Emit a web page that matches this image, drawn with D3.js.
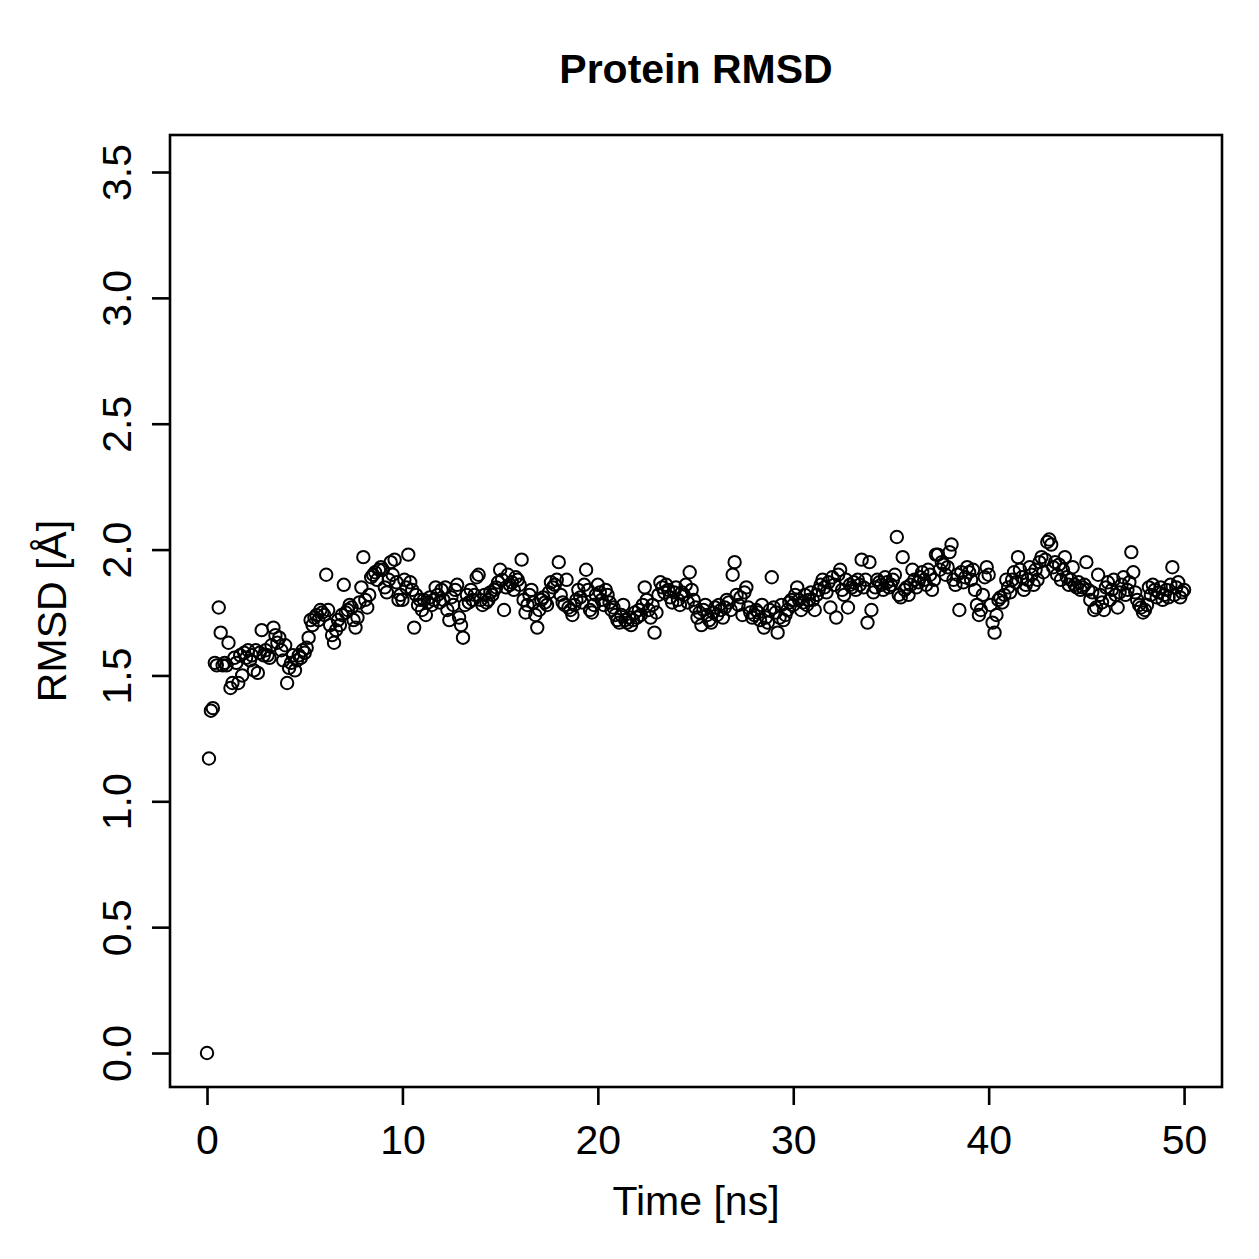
<!DOCTYPE html>
<html>
<head>
<meta charset="utf-8">
<script src="https://cdn.jsdelivr.net/npm/d3@7"></script>
<style>
  body { margin: 0; background: #fff; }
  text { font-family: "Liberation Sans", Arial, sans-serif; }
</style>
</head>
<body>
<svg id="chart"></svg>
<script>
// RMSD values, one sample every 0.1 ns (one row = 1 ns)
const timeStep = 0.1;
const rmsd = [
  0.00, 1.17, 1.36, 1.37, 1.55, 1.54, 1.77, 1.67, 1.54, 1.55,
  1.54, 1.63, 1.45, 1.47, 1.57, 1.55, 1.47, 1.58, 1.50, 1.59,
  1.57, 1.60, 1.56, 1.58, 1.52, 1.60, 1.51, 1.59, 1.68, 1.58,
  1.60, 1.58, 1.57, 1.62, 1.69, 1.66, 1.63, 1.65, 1.60, 1.56,
  1.62, 1.47, 1.53, 1.55, 1.58, 1.52, 1.56, 1.58, 1.57, 1.60,
  1.59, 1.61, 1.65, 1.72, 1.70, 1.73, 1.74, 1.72, 1.76, 1.75,
  1.74, 1.90, 1.76, 1.70, 1.66, 1.63, 1.68, 1.72, 1.70, 1.74,
  1.86, 1.75, 1.76, 1.78, 1.77, 1.72, 1.69, 1.73, 1.79, 1.85,
  1.97, 1.80, 1.77, 1.82, 1.89, 1.90, 1.91, 1.88, 1.92, 1.93,
  1.92, 1.85, 1.83, 1.88, 1.95, 1.90, 1.96, 1.87, 1.80, 1.82,
  1.80, 1.88, 1.85, 1.98, 1.87, 1.84, 1.69, 1.82, 1.78, 1.80,
  1.76, 1.80, 1.74, 1.79, 1.81, 1.78, 1.80, 1.85, 1.82, 1.79,
  1.84, 1.80, 1.85, 1.76, 1.72, 1.81, 1.78, 1.84, 1.86, 1.73,
  1.70, 1.65, 1.78, 1.82, 1.79, 1.84, 1.80, 1.82, 1.89, 1.90,
  1.80, 1.78, 1.82, 1.79, 1.80, 1.83, 1.82, 1.84, 1.85, 1.87,
  1.92, 1.88, 1.76, 1.85, 1.90, 1.86, 1.87, 1.84, 1.89, 1.88,
  1.86, 1.96, 1.80, 1.75, 1.78, 1.82, 1.84, 1.79, 1.74, 1.69,
  1.76, 1.80, 1.81, 1.79, 1.78, 1.83, 1.87, 1.85, 1.86, 1.88,
  1.95, 1.82, 1.79, 1.78, 1.88, 1.77, 1.76, 1.74, 1.78, 1.80,
  1.84, 1.81, 1.79, 1.86, 1.92, 1.84, 1.76, 1.75, 1.78, 1.82,
  1.86, 1.83, 1.80, 1.78, 1.84, 1.82, 1.79, 1.76, 1.77, 1.74,
  1.72, 1.71, 1.74, 1.78, 1.72, 1.71, 1.73, 1.70, 1.72, 1.75,
  1.73, 1.76, 1.74, 1.78, 1.85, 1.80, 1.76, 1.73, 1.78, 1.67,
  1.75, 1.82, 1.87, 1.85, 1.83, 1.86, 1.84, 1.81, 1.79, 1.83,
  1.85, 1.80, 1.78, 1.83, 1.82, 1.86, 1.79, 1.91, 1.84, 1.80,
  1.77, 1.73, 1.75, 1.70, 1.76, 1.78, 1.74, 1.72, 1.71, 1.75,
  1.77, 1.74, 1.78, 1.76, 1.73, 1.77, 1.80, 1.79, 1.76, 1.90,
  1.95, 1.82, 1.78, 1.81, 1.74, 1.83, 1.85, 1.77, 1.75, 1.73,
  1.74, 1.76, 1.75, 1.72, 1.78, 1.69, 1.73, 1.71, 1.76, 1.89,
  1.77, 1.75, 1.67, 1.73, 1.78, 1.72, 1.74, 1.76, 1.79, 1.80,
  1.78, 1.82, 1.85, 1.80, 1.76, 1.79, 1.82, 1.78, 1.80, 1.83,
  1.80, 1.76, 1.82, 1.84, 1.86, 1.88, 1.85, 1.83, 1.87, 1.77,
  1.89, 1.86, 1.73, 1.90, 1.92, 1.84, 1.82, 1.88, 1.77, 1.86,
  1.85, 1.87, 1.84, 1.88, 1.86, 1.96, 1.85, 1.88, 1.71, 1.95,
  1.76, 1.83, 1.85, 1.88, 1.87, 1.86, 1.84, 1.89, 1.87, 1.85,
  1.86, 1.88, 1.90, 2.05, 1.82, 1.81, 1.97, 1.84, 1.85, 1.82,
  1.86, 1.92, 1.88, 1.85, 1.87, 1.89, 1.91, 1.88, 1.86, 1.92,
  1.90, 1.84, 1.88, 1.98, 1.98, 1.92, 1.95, 1.94, 1.90, 1.93,
  1.99, 2.02, 1.88, 1.86, 1.90, 1.76, 1.91, 1.87, 1.89, 1.93,
  1.91, 1.88, 1.92, 1.84, 1.78, 1.74, 1.76, 1.82, 1.89, 1.93,
  1.90, 1.78, 1.71, 1.67, 1.74, 1.80, 1.81, 1.79, 1.82, 1.88,
  1.85, 1.83, 1.88, 1.91, 1.87, 1.97, 1.92, 1.89, 1.84, 1.86,
  1.88, 1.93, 1.90, 1.86, 1.92, 1.88, 1.95, 1.97, 1.91, 1.96,
  2.03, 2.04, 2.02, 1.93, 1.95, 1.90, 1.94, 1.88, 1.92, 1.97,
  1.89, 1.86, 1.88, 1.93, 1.86, 1.85, 1.87, 1.84, 1.85, 1.86,
  1.95, 1.84, 1.80, 1.83, 1.76, 1.77, 1.90, 1.82, 1.79, 1.76,
  1.85, 1.87, 1.80, 1.84, 1.88, 1.82, 1.77, 1.83, 1.86, 1.89,
  1.82, 1.84, 1.87, 1.99, 1.91, 1.83, 1.80, 1.78, 1.77, 1.75,
  1.76, 1.78, 1.85, 1.82, 1.86, 1.84, 1.81, 1.83, 1.85, 1.80,
  1.82, 1.84, 1.81, 1.86, 1.93, 1.82, 1.85, 1.87, 1.81, 1.83,
  1.84
];
const xTicks = [0, 10, 20, 30, 40, 50];
const yTicks = [0.0, 0.5, 1.0, 1.5, 2.0, 2.5, 3.0, 3.5];

const data = rmsd.map((v, i) => ({ time: i * timeStep, rmsd: v }));

const width = 1259;
const height = 1259;
const box = { left: 170, right: 1222, top: 135, bottom: 1087 };
const fontSize = 41;
const tickLen = 18;

const svg = d3.select("#chart")
  .attr("width", width)
  .attr("height", height);

// padded ranges, as in the original plot
const xScale = d3.scaleLinear()
  .domain([-1.894, 51.94])
  .range([box.left, box.right]);

const yScale = d3.scaleLinear()
  .domain([-0.135, 3.647])
  .range([box.bottom, box.top]);

const xAxis = d3.axisBottom(xScale)
  .tickValues(xTicks)
  .tickFormat(d3.format("d"))
  .tickSize(tickLen)
  .tickSizeOuter(0);

const yAxis = d3.axisLeft(yScale)
  .tickValues(yTicks)
  .tickFormat(d3.format(".1f"))
  .tickSize(tickLen)
  .tickSizeOuter(0);

const gx = svg.append("g")
  .attr("class", "x-axis")
  .attr("transform", `translate(0, ${box.bottom})`)
  .call(xAxis);

const gy = svg.append("g")
  .attr("class", "y-axis")
  .attr("transform", `translate(${box.left}, 0)`)
  .call(yAxis);

gx.select(".domain").remove();
gy.select(".domain").remove();

gx.selectAll(".tick line").attr("stroke", "#000").attr("stroke-width", 2.6);
gy.selectAll(".tick line").attr("stroke", "#000").attr("stroke-width", 2.6);

gx.selectAll(".tick text")
  .attr("y", 67)
  .attr("dy", null)
  .attr("fill", "#000")
  .style("font-size", fontSize + "px")
  .style("font-family", "Liberation Sans, Arial, sans-serif");

gy.selectAll(".tick text")
  .attr("transform", "rotate(-90)")
  .attr("x", 0)
  .attr("y", -39)
  .attr("dy", null)
  .attr("text-anchor", "middle")
  .attr("fill", "#000")
  .style("font-size", fontSize + "px")
  .style("font-family", "Liberation Sans, Arial, sans-serif");

// plot frame
svg.append("rect")
  .attr("x", box.left)
  .attr("y", box.top)
  .attr("width", box.right - box.left)
  .attr("height", box.bottom - box.top)
  .attr("fill", "none")
  .attr("stroke", "#000")
  .attr("stroke-width", 2.6);

// points
svg.append("g")
  .selectAll("circle")
  .data(data)
  .join("circle")
  .attr("cx", d => xScale(d.time))
  .attr("cy", d => yScale(d.rmsd))
  .attr("r", 6.2)
  .attr("fill", "none")
  .attr("stroke", "#000")
  .attr("stroke-width", 2);

// title and labels
const midX = (box.left + box.right) / 2;
const midY = (box.top + box.bottom) / 2;

svg.append("text")
  .attr("x", midX)
  .attr("y", 83)
  .attr("text-anchor", "middle")
  .style("font-size", fontSize + "px")
  .style("font-weight", "bold")
  .text("Protein RMSD");

svg.append("text")
  .attr("x", midX)
  .attr("y", 1215)
  .attr("text-anchor", "middle")
  .style("font-size", fontSize + "px")
  .text("Time [ns]");

svg.append("text")
  .attr("transform", `translate(66, ${midY}) rotate(-90)`)
  .attr("text-anchor", "middle")
  .style("font-size", fontSize + "px")
  .text("RMSD [Å]");
</script>
</body>
</html>
